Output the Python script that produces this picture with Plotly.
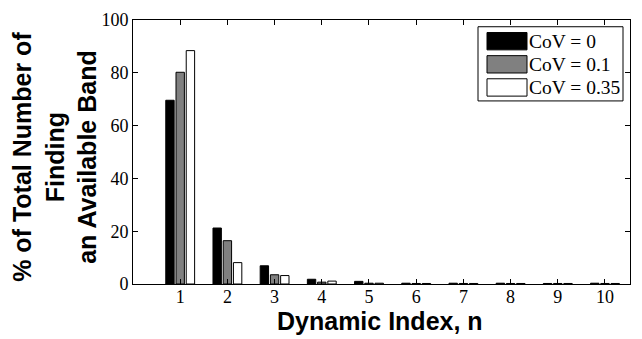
import plotly.graph_objects as go

index = [1, 2, 3, 4, 5, 6, 7, 8, 9, 10]
cov0 = [69.6, 21.2, 6.9, 1.8, 1.0, 0.3, 0.3, 0.3, 0.2, 0.3]
cov01 = [80.2, 16.4, 3.5, 0.7, 0.3, 0.2, 0.2, 0.2, 0.2, 0.2]
cov035 = [88.4, 8.1, 3.2, 1.1, 0.3, 0.2, 0.2, 0.2, 0.2, 0.2]
names = ["CoV = 0", "CoV = 0.1", "CoV = 0.35"]
colors = ["black", "#808080", "white"]
y_ticks = [0, 20, 40, 60, 80, 100]

W, H = 642, 339
L, R, T, B = 133, 12, 10, 55
PW, PH = W - L - R, H - T - B


def px(x):
    return (x - L) / PW


def py(y):
    return (H - B - y) / PH


fig = go.Figure()
for vals, name, color in zip([cov0, cov01, cov035], names, colors):
    fig.add_trace(go.Bar(x=index, y=vals, name=name,
                         marker=dict(color=color, line=dict(color="black", width=1))))

serif = "Liberation Serif, Times New Roman, serif"
sans = "Liberation Sans, Arial, sans-serif"

shapes = [dict(type="rect", xref="paper", yref="paper", x0=px(478), x1=px(623), y0=py(94), y1=py(17),
               line=dict(color="black", width=1), fillcolor="white", layer="above")]
annotations = [
    dict(text="<b>% of Total Number of<br>Finding<br>an Available Band</b>",
         xref="paper", yref="paper", x=px(55), y=py(152), xanchor="center", yanchor="middle",
         textangle=-90, showarrow=False, font=dict(family=sans, size=25, color="black")),
    dict(text="<b>Dynamic Index, n</b>", xref="paper", yref="paper", x=px(380), y=py(322),
         xanchor="center", yanchor="middle", showarrow=False,
         font=dict(family=sans, size=25, color="black")),
]
for i, (name, color) in enumerate(zip(names, colors)):
    yc = 32 + 24 * i
    shapes.append(dict(type="rect", xref="paper", yref="paper", x0=px(487), x1=px(527),
                       y0=py(yc + 9), y1=py(yc - 9), line=dict(color="black", width=1),
                       fillcolor=color, layer="above"))
    annotations.append(dict(text=name, xref="paper", yref="paper", x=px(527), y=py(yc),
                            xanchor="left", yanchor="middle", showarrow=False,
                            font=dict(family=serif, size=19.5, color="black")))

fig.update_layout(
    width=W, height=H,
    margin=dict(l=L, r=R, t=T, b=B),
    paper_bgcolor="white", plot_bgcolor="white",
    barmode="group", bargap=0.35, bargroupgap=0.18,
    showlegend=False,
    xaxis=dict(range=[0, 10.53], tickvals=index, ticktext=[str(i) for i in index],
               ticks="inside", ticklen=5, tickcolor="black", mirror="ticks",
               showline=True, linecolor="black", linewidth=1, showgrid=False, zeroline=False,
               ticklabelstandoff=-4,
               tickfont=dict(family=serif, size=18, color="black")),
    yaxis=dict(range=[0, 100], tickvals=y_ticks,
               ticks="inside", ticklen=5, tickcolor="black", mirror="ticks",
               showline=True, linecolor="black", linewidth=1, showgrid=False, zeroline=False,
               tickfont=dict(family=serif, size=18, color="black")),
    shapes=shapes,
    annotations=annotations,
)
fig.write_html("out.html")
